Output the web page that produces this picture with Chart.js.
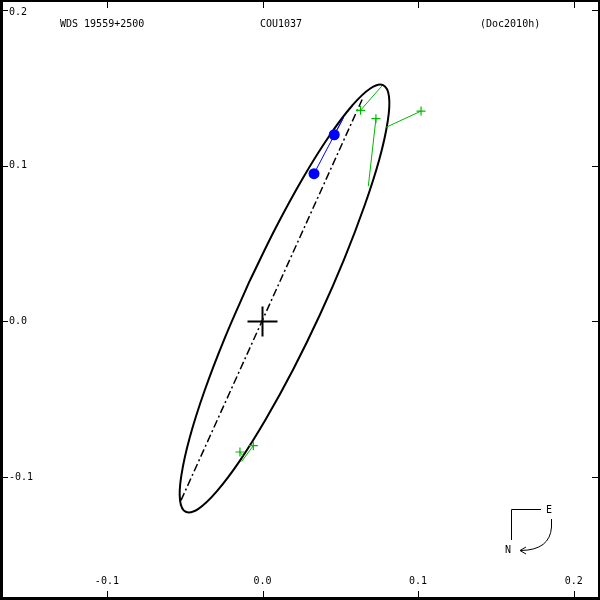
<!DOCTYPE html>
<html>
<head>
<meta charset="utf-8">
<title>WDS 19559+2500 COU1037</title>
<script src="https://cdn.jsdelivr.net/npm/chart.js@4.4.1/dist/chart.umd.min.js"></script>
<style>
  html, body { margin: 0; padding: 0; background: #fff; }
  #wrap { width: 600px; height: 600px; }
</style>
</head>
<body>
<div id="wrap"><canvas id="orbit" width="600" height="600"></canvas></div>
<script>
// orbit ellipse (arcsec)
const orbitX = [-0.0086, -0.0242, -0.0373, -0.0468, -0.0521, -0.0530, -0.0493, -0.0412, -0.0294, -0.0146, 0.0021, 0.0197, 0.0369, 0.0525, 0.0655, 0.0751, 0.0804, 0.0813, 0.0775, 0.0695, 0.0577, 0.0429, 0.0261, 0.0086, -0.0086];
const orbitY = [0.0253, -0.0105, -0.0447, -0.0747, -0.0987, -0.1149, -0.1223, -0.1204, -0.1092, -0.0896, -0.0629, -0.0309, 0.0043, 0.0401, 0.0742, 0.1043, 0.1282, 0.1445, 0.1519, 0.1499, 0.1388, 0.1192, 0.0924, 0.0604, 0.0253];

// line of nodes
const nodeX = [-0.0524, 0.0646];
const nodeY = [-0.1150, 0.1439];

// speckle measures (blue) and their computed positions
const blueX = [0.0331, 0.0461];
const blueY = [0.0950, 0.1200];
const bluePredX = [0.0519, 0.0519];
const bluePredY = [0.1307, 0.1307];

// visual measures (green) and their computed positions
const greenX = [0.0630, 0.0729, 0.1019, -0.0145, -0.0059];
const greenY = [0.1357, 0.1303, 0.1352, -0.0839, -0.0798];
const greenPredX = [0.0766, 0.0680, 0.0794, -0.0125, -0.0134];
const greenPredY = [0.1512, 0.0869, 0.1248, -0.0864, -0.0900];

// ticks
const xTicks = [-0.1, 0.0, 0.1, 0.2];
const xTickLabels = ['-0.1', '0.0', '0.1', '0.2'];
const yTicks = [0.2, 0.1, 0.0, -0.1];
const yTickLabels = ['0.2', '0.1', '0.0', '-0.1'];

const GREEN = '#00b800';
const BLUE = '#0000ff';
const FONT = '10px "DejaVu Sans Mono", "Liberation Mono", monospace';

const pts = (xs, ys) => xs.map((x, i) => ({ x: x, y: ys[i] }));

const residuals = (xs, ys, px, py, color) => xs.map((x, i) => ({
    data: [{ x: x, y: ys[i] }, { x: px[i], y: py[i] }],
    showLine: true,
    borderColor: color,
    borderWidth: 1,
    pointRadius: 0,
    order: 3
}));

const framePlugin = {
    id: 'frame',
    afterDraw(chart) {
        const ctx = chart.ctx;
        const sx = chart.scales.x, sy = chart.scales.y;
        ctx.save();
        ctx.fillStyle = '#000';
        ctx.strokeStyle = '#000';

        // border
        ctx.fillRect(0, 0, 3, 600);
        ctx.fillRect(0, 0, 600, 2);
        ctx.fillRect(598, 0, 2, 600);
        ctx.fillRect(0, 597, 600, 3);

        // ticks on all four sides
        ctx.lineWidth = 1;
        ctx.beginPath();
        xTicks.forEach(v => {
            const px = Math.round(sx.getPixelForValue(v)) + 0.5;
            ctx.moveTo(px, 2); ctx.lineTo(px, 8);
            ctx.moveTo(px, 597); ctx.lineTo(px, 591);
        });
        yTicks.forEach(v => {
            const py = Math.round(sy.getPixelForValue(v)) + 0.5;
            ctx.moveTo(3, py); ctx.lineTo(8, py);
            ctx.moveTo(598, py); ctx.lineTo(592, py);
        });
        ctx.stroke();

        // tick labels
        ctx.font = FONT;
        ctx.textBaseline = 'middle';
        ctx.textAlign = 'center';
        xTicks.forEach((v, i) => {
            ctx.fillText(xTickLabels[i], sx.getPixelForValue(v), 581);
        });
        ctx.textAlign = 'left';
        yTicks.forEach((v, i) => {
            const py = Math.max(12, sy.getPixelForValue(v));
            ctx.fillText(yTickLabels[i], 9, py);
        });

        // header
        ctx.fillText('WDS 19559+2500', 60, 24.5);
        ctx.fillText('COU1037', 260, 24.5);
        ctx.fillText('(Doc2010h)', 480, 24.5);

        // compass
        ctx.beginPath();
        ctx.moveTo(541, 509.5); ctx.lineTo(511.5, 509.5); ctx.lineTo(511.5, 540);
        ctx.stroke();
        ctx.fillText('E', 546, 510);
        ctx.fillText('N', 505, 550);
        ctx.beginPath();
        ctx.moveTo(551.5, 519); ctx.lineTo(551.5, 527);
        ctx.quadraticCurveTo(550, 550, 521, 550.5);
        ctx.moveTo(526, 547); ctx.lineTo(520, 550.5); ctx.lineTo(526, 554);
        ctx.stroke();
        ctx.restore();
    }
};

new Chart(document.getElementById('orbit'), {
    type: 'scatter',
    data: {
        datasets: [
            {
                data: pts(orbitX, orbitY),
                showLine: true,
                tension: 0.4,
                borderColor: '#000',
                borderWidth: 2,
                pointRadius: 0,
                order: 5
            },
            {
                data: pts(nodeX, nodeY),
                showLine: true,
                borderColor: '#000',
                borderWidth: 1.5,
                borderDash: [8, 3, 2, 3],
                pointRadius: 0,
                order: 4
            },
            ...residuals(blueX, blueY, bluePredX, bluePredY, BLUE),
            ...residuals(greenX, greenY, greenPredX, greenPredY, GREEN),
            {
                data: [{ x: 0, y: 0 }],
                pointStyle: 'cross',
                pointRadius: 15,
                borderColor: '#000',
                borderWidth: 2,
                order: 2
            },
            {
                data: pts(greenX, greenY),
                pointStyle: 'cross',
                pointRadius: 4.5,
                borderColor: GREEN,
                borderWidth: 1.2,
                order: 1
            },
            {
                data: pts(blueX, blueY),
                pointStyle: 'circle',
                pointRadius: 5.5,
                backgroundColor: BLUE,
                borderWidth: 0,
                order: 0
            }
        ]
    },
    options: {
        responsive: false,
        animation: false,
        events: [],
        layout: { padding: 0, autoPadding: false },
        plugins: {
            legend: { display: false },
            tooltip: { enabled: false }
        },
        scales: {
            x: { type: 'linear', display: false, min: -0.1687, max: 0.2169 },
            y: { type: 'linear', display: false, min: -0.1790, max: 0.2066 }
        }
    },
    plugins: [framePlugin]
});
</script>
</body>
</html>
